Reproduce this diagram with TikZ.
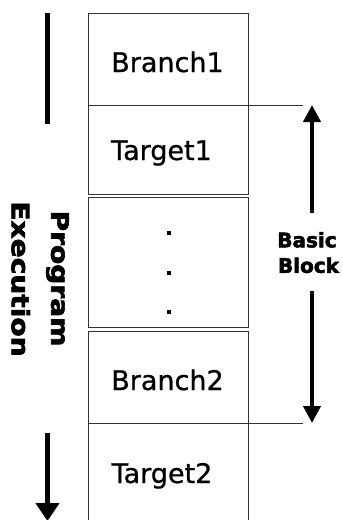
\documentclass[tikz,border=0pt]{standalone}
\usepackage{fontspec}
\setmainfont{DejaVu Sans}
\newfontfamily\labelfont[FakeBold=0.8]{DejaVu Sans}
\newfontfamily\heavyfont[BoldFont={*},FakeBold=2.5]{DejaVu Sans Bold}
\usetikzlibrary{arrows.meta}
\begin{document}
\begin{tikzpicture}[x=1pt,y=-1pt,
  cell/.style={draw=black!80,line width=1pt,minimum width=160pt,inner sep=0pt,outer sep=0pt},
  celltext/.style={font=\labelfont\fontsize{27}{30}\selectfont,inner sep=0pt,anchor=base},
  flowtext/.style={font=\heavyfont\fontsize{24}{26}\selectfont,inner sep=0pt,
    text height=17.5pt,text depth=0pt,transform shape,rotate=-90,xscale=1.17},
  bbtext/.style={font=\heavyfont\fontsize{20}{22}\selectfont,inner sep=0pt,
    text height=14.6pt,text depth=0pt},
  bar/.style={line width=4.5pt},
  thinline/.style={draw=black!80,line width=1pt},
  dot/.style={fill=black,minimum size=3.6pt,inner sep=0pt}]
\path[use as bounding box,clip] (0,0) rectangle (343,520);
\fill[white] (0,0) rectangle (343,520);

% stack of code regions
\node[cell,minimum height=92pt]  (b1) at (168.3,59)    {};
\node[cell,minimum height=89pt]  (b2) at (168.3,149.5) {};
\node[cell,minimum height=130pt] (b3) at (168.3,262)   {};
\node[cell,minimum height=92pt]  (b4) at (168.3,377)   {};
\node[cell,minimum height=117pt] (b5) at (168.3,481.5) {};

\node[celltext] (t1) at (167.5,72)  {Branch1};
\node[celltext] (t2) at (161.5,160) {Target1};
\node[celltext] (t4) at (167.5,390) {Branch2};
\node[celltext] (t5) at (162,483)   {Target2};

\node[dot] (d1) at (169,233) {};
\node[dot] (d2) at (169,273) {};
\node[dot] (d3) at (169,312) {};

% basic block extent
\coordinate (bbtop) at (303,105);
\coordinate (bbbot) at (303,423);
\draw[thinline] (b1.south east) -- (bbtop);
\draw[thinline] (b4.south east) -- (bbbot);

\coordinate (upfrom) at (312,213);
\coordinate (uptip) at (312,105);
\coordinate (dnfrom) at (312,291);
\coordinate (dntip) at (312,423);
\draw[line width=4pt,-{Triangle[length=17pt,width=17pt]}] (upfrom) -- (uptip);
\draw[line width=4pt,-{Triangle[length=17pt,width=17pt]}] (dnfrom) -- (dntip);

\node[bbtext] (bb1) at (307,240)   {Basic};
\node[bbtext] (bb2) at (308.5,265.5) {Block};

% direction of program execution
\coordinate (bartop) at (47.5,13);
\coordinate (barbot) at (47.5,124);
\draw[bar] (bartop) -- (barbot);
\coordinate (arrfrom) at (47.5,433);
\coordinate (arrtip) at (47.5,521);
\draw[bar,-{Triangle[length=18pt,width=23pt]}] (arrfrom) -- (arrtip);

\node[flowtext] (pe1) at (60,278.5) {Program};
\node[flowtext] (pe2) at (20.5,279) {Execution};
\end{tikzpicture}
\end{document}
